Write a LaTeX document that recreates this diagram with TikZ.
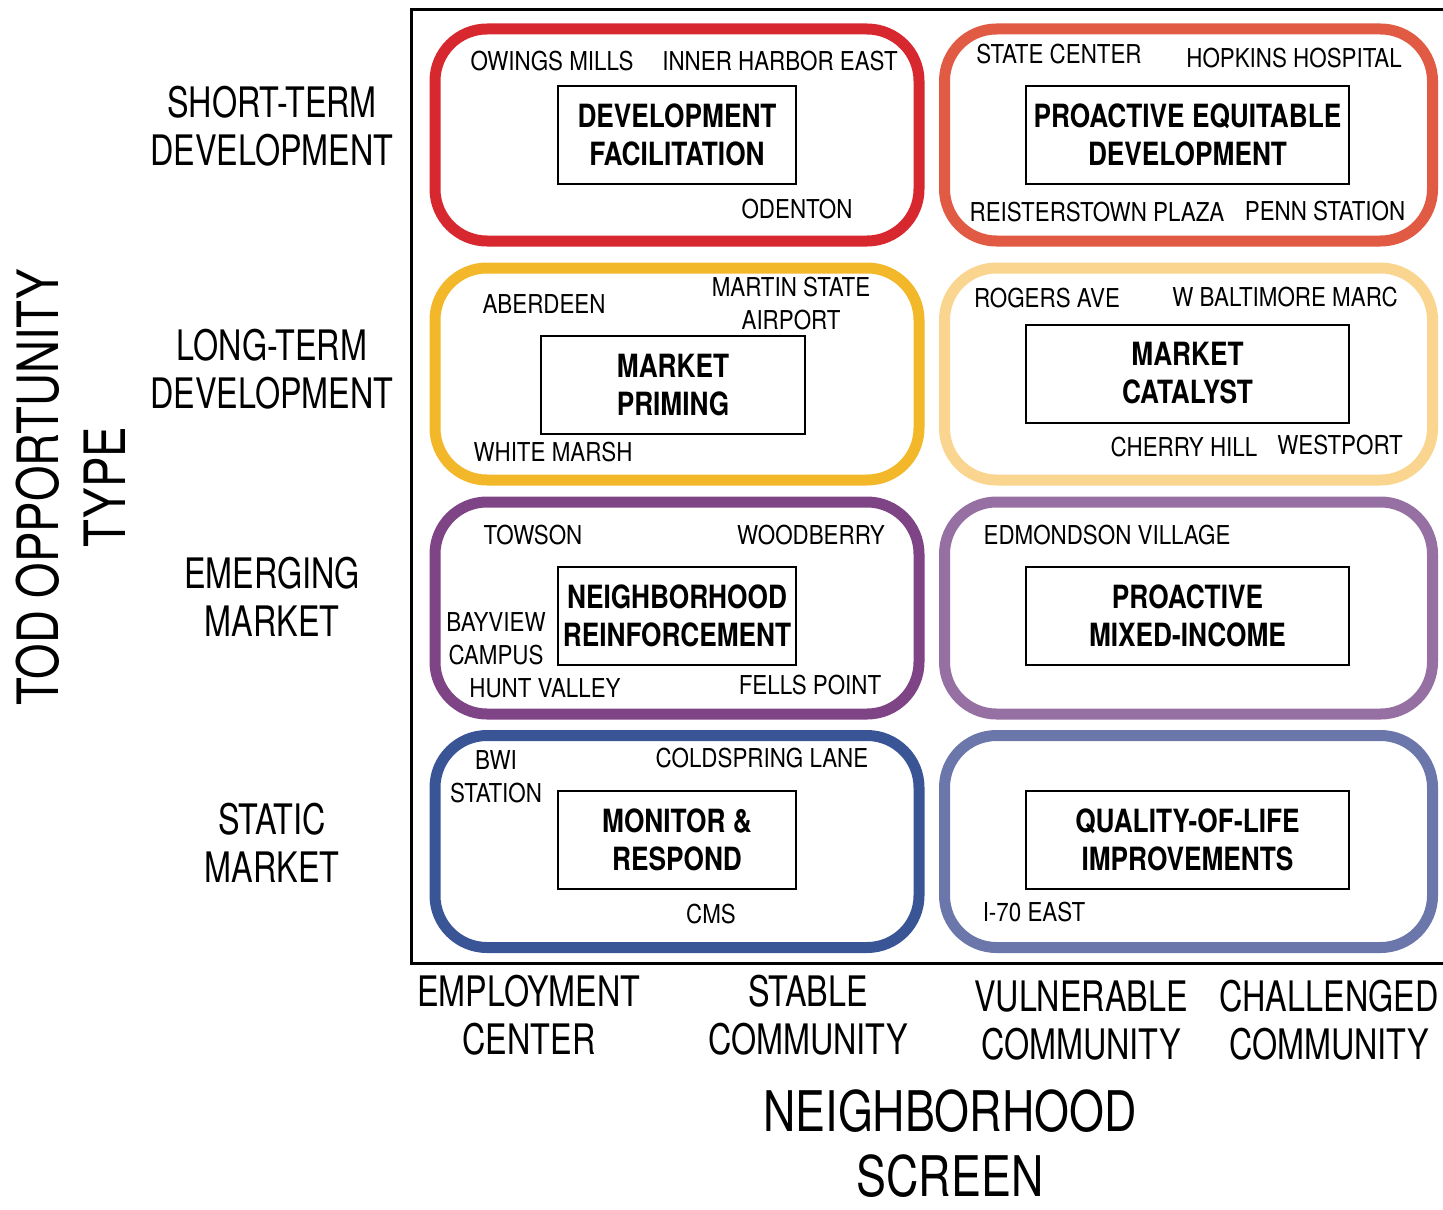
\documentclass[tikz,border=0pt]{standalone}
\usepackage{fontspec}
\setmainfont{TeX Gyre Heros}[FakeStretch=0.86]
\newfontfamily\condensed{TeX Gyre Heros}[FakeStretch=0.77]
\newfontfamily\boxfont{TeX Gyre Heros}[FakeStretch=0.82]
\newfontfamily\titlefont{TeX Gyre Heros}[FakeStretch=0.8]
\definecolor{zoneA}{HTML}{D7282F}
\definecolor{zoneB}{HTML}{E05A44}
\definecolor{zoneC}{HTML}{F3B72A}
\definecolor{zoneD}{HTML}{FAD58F}
\definecolor{zoneE}{HTML}{7E4486}
\definecolor{zoneF}{HTML}{9670A2}
\definecolor{zoneG}{HTML}{3A5596}
\definecolor{zoneH}{HTML}{6B76AA}

\begin{document}
\begin{tikzpicture}[x=0.5pt, y=-0.5pt,
 every node/.style = {align=center, inner sep=0pt},
 zone/.style = {draw=#1, line width=5.5pt, rounded corners=26pt,
   minimum width=242pt, minimum height=106pt},
 strategy/.style = {draw, line width=1pt, minimum height=49pt,
   font=\boxfont\bfseries\fontsize{16}{19}\selectfont},
 site/.style = {font=\fontsize{13}{16.5}\selectfont},
 axis/.style = {font=\condensed\fontsize{21}{24}\selectfont},
 title/.style = {font=\titlefont\fontsize{28.5}{33.5}\selectfont}]
 \useasboundingbox (0,0) rectangle (1443,1209);

 % frame
 \draw[line width=1.5pt] (1443,10) -- (411,10) -- (411,963) -- (1443,963);

 % zones
 \node[zone=zoneA] (shortemp) at (677,135) {};
 \node[zone=zoneB, minimum width=244pt] (shortvul) at (1188.5,135) {};
 \node[zone=zoneC] (longemp) at (677,374) {};
 \node[zone=zoneD, minimum width=244pt] (longvul) at (1188.5,374) {};
 \node[zone=zoneE] (emergemp) at (677,608) {};
 \node[zone=zoneF, minimum width=244pt] (emergvul) at (1188.5,608) {};
 \node[zone=zoneG] (staticemp) at (677,841.5) {};
 \node[zone=zoneH, minimum width=244pt] (staticvul) at (1188.5,841.5) {};

 % strategies
 \node[strategy, minimum width=119pt] (devfac) at (677,135) {DEVELOPMENT\\FACILITATION};
 \node[strategy, minimum width=161.5pt] (proequ) at (1187.5,135) {PROACTIVE EQUITABLE\\DEVELOPMENT};
 \node[strategy, minimum width=132pt] (priming) at (673,385) {MARKET\\PRIMING};
 \node[strategy, minimum width=161.5pt] (catalyst) at (1187.5,373.5) {MARKET\\CATALYST};
 \node[strategy, minimum width=119pt] (reinforce) at (677,615.5) {NEIGHBORHOOD\\REINFORCEMENT};
 \node[strategy, minimum width=161.5pt] (mixed) at (1187.5,615.5) {PROACTIVE\\MIXED-INCOME};
 \node[strategy, minimum width=119pt] (monitor) at (677,840) {MONITOR \&\\RESPOND};
 \node[strategy, minimum width=161.5pt] (quality) at (1187.5,840) {QUALITY-OF-LIFE\\IMPROVEMENTS};

 % stations
 \node[site] (owings) at (552,61) {OWINGS MILLS};
 \node[site] (harbor) at (780,61) {INNER HARBOR EAST};
 \node[site] (odenton) at (797,209) {ODENTON};
 \node[site] (state) at (1059,54) {STATE CENTER};
 \node[site] (hopkins) at (1294,58) {HOPKINS HOSPITAL};
 \node[site] (reister) at (1097,212) {REISTERSTOWN PLAZA};
 \node[site] (penn) at (1325,211) {PENN STATION};
 \node[site] (aberdeen) at (544,304) {ABERDEEN};
 \node[site] (martin) at (791,304) {MARTIN STATE\\AIRPORT};
 \node[site] (white) at (553,452) {WHITE MARSH};
 \node[site] (rogers) at (1047,298) {ROGERS AVE};
 \node[site] (wbalt) at (1285,297) {W BALTIMORE MARC};
 \node[site] (cherry) at (1184,447) {CHERRY HILL};
 \node[site] (westport) at (1340,445) {WESTPORT};
 \node[site] (towson) at (533,535) {TOWSON};
 \node[site] (woodberry) at (811,535) {WOODBERRY};
 \node[site] (bayview) at (496,639) {BAYVIEW\\CAMPUS};
 \node[site] (hunt) at (545,688) {HUNT VALLEY};
 \node[site] (fells) at (810,685) {FELLS POINT};
 \node[site] (edmondson) at (1107,535) {EDMONDSON VILLAGE};
 \node[site] (bwi) at (496,777) {BWI\\STATION};
 \node[site] (coldspring) at (762,758) {COLDSPRING LANE};
 \node[site] (cms) at (711,914) {CMS};
 \node[site] (east) at (1034,912) {I-70 EAST};

 % row labels
 \node[axis] (shortterm) at (272,126) {SHORT-TERM\\DEVELOPMENT};
 \node[axis] (longterm) at (272,369) {LONG-TERM\\DEVELOPMENT};
 \node[axis] (emerging) at (272,597) {EMERGING\\MARKET};
 \node[axis] (static) at (272,843) {STATIC\\MARKET};
 \node[title, rotate=90] (todtype) at (71,487) {TOD OPPORTUNITY\\TYPE};

 % column labels
 \node[axis] (employment) at (529,1015) {EMPLOYMENT\\CENTER};
 \node[axis] (stable) at (808,1015) {STABLE\\COMMUNITY};
 \node[axis] (vulnerable) at (1081,1021) {VULNERABLE\\COMMUNITY};
 \node[axis] (challenged) at (1329,1020) {CHALLENGED\\COMMUNITY};
 \node[title, font=\titlefont\fontsize{28}{32.5}\selectfont] (screen) at (950,1144) {NEIGHBORHOOD\\SCREEN};
\end{tikzpicture}
\end{document}
